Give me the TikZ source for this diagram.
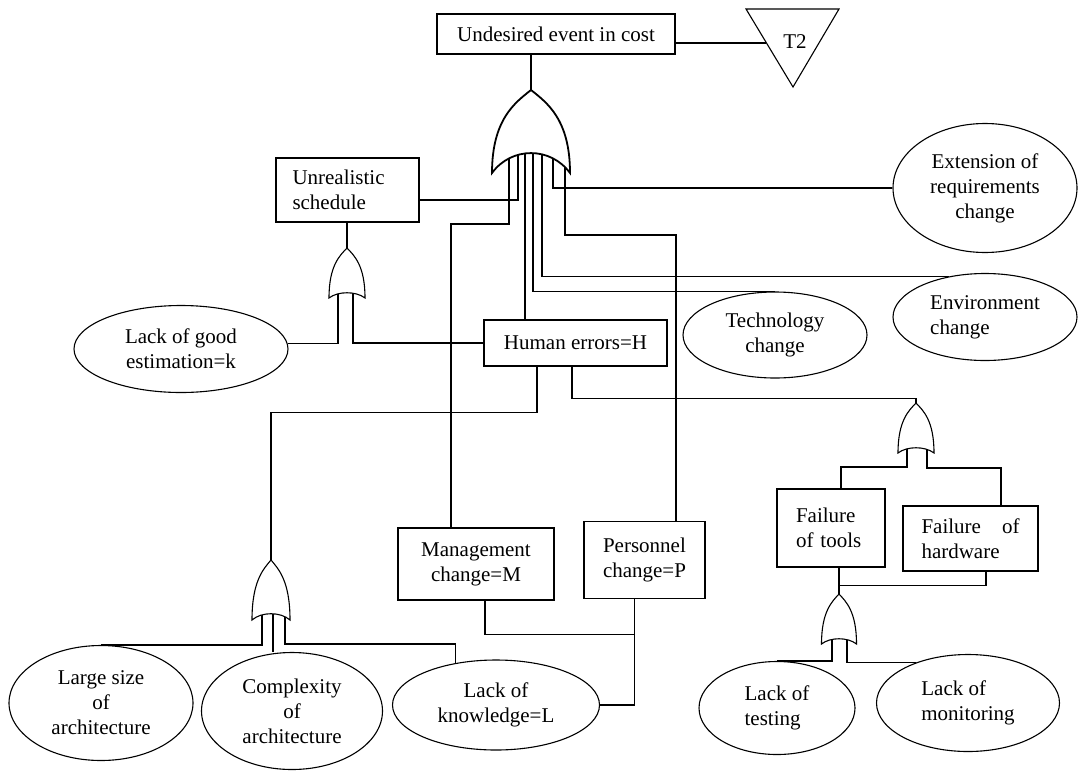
\documentclass[tikz,border=0pt]{standalone}
\usepackage{fontspec}
\setmainfont{Liberation Serif}
\usepackage{tikz}
\usetikzlibrary{shapes.geometric}

\tikzset{
	orgate/.pic={
		\draw[fill=white] (0,0) .. controls (0.2,0.15) and (0.5,0.35) .. (0.5,1)
			.. controls (0.25,{1-#1}) and (-0.25,{1-#1}) .. (-0.5,1)
			.. controls (-0.5,0.35) and (-0.2,0.15) .. cycle;
	}
}

\begin{document}
\begin{tikzpicture}[x=1pt,y=-1pt,line width=1.1pt,
	evbox/.style={draw,rectangle,inner sep=0pt,font=\fontsize{21}{25}\selectfont,align=center},
	evell/.style={draw,ellipse,inner sep=0pt,font=\fontsize{21}{25}\selectfont,align=center}]
	\useasboundingbox (0,0) rectangle (1078,771);
	% events
	\node[evbox,minimum width=238pt,minimum height=40pt] (top) at (556,34) {Undesired event in cost};
	\node[evbox,minimum width=143pt,minimum height=64pt,text width=110pt,align=left] (uns) at (347.5,190) {Unrealistic\\schedule};
	\node[evbox,minimum width=183pt,minimum height=46pt] (H) at (575.5,343) {Human errors=H};
	\node[evbox,minimum width=156pt,minimum height=72pt] (M) at (476,564) {Management\\change=M};
	\node[evbox,minimum width=121pt,minimum height=77pt,align=left] (P) at (644.5,560) {Personnel\\change=P};
	\node[evbox,minimum width=108pt,minimum height=78pt,text width=70pt,align=left] (ft) at (831,528) {Failure\\of tools};
	\node[evbox,minimum width=135pt,minimum height=65pt,text width=98pt,align=justify] (fh) at (970.5,538.5) {Failure of hardware};
	\node[evell,minimum width=184pt,minimum height=129pt] (ext) at (985,188) {Extension of\\requirements\\change};
	\node[evell,minimum width=184pt,minimum height=87pt,align=left] (env) at (985,317) {Environment\\change};
	\node[evell,minimum width=184pt,minimum height=86pt] (tech) at (775,335) {Technology\\change};
	\node[evell,minimum width=214pt,minimum height=87pt] (k) at (181,349) {Lack of good\\estimation=k};
	\node[evell,minimum width=184pt,minimum height=115pt] (large) at (101,703) {Large size\\of\\architecture};
	\node[evell,minimum width=181pt,minimum height=117pt] (comp) at (292,711) {Complexity\\of\\architecture};
	\node[evell,minimum width=207pt,minimum height=90pt] (lk) at (496,705) {Lack of\\knowledge=L};
	\node[evell,minimum width=156pt,minimum height=93pt,align=left] (test) at (777,708) {Lack of\\testing};
	\node[evell,minimum width=183pt,minimum height=97pt,align=left] (mon) at (968,703) {Lack of\\monitoring};
	% transfer triangle
	\draw (746,9) -- (839,9) -- (793,87) -- cycle;
	\node[font=\fontsize{21}{25}\selectfont] (t2) at (795,42) {T2};
	\coordinate (t2in) at (766,43);
	% gate points
	\coordinate (g0top) at (531,90);
	\coordinate (g0a) at (509,150);
	\coordinate (g0b) at (518,150);
	\coordinate (g0c) at (525,150);
	\coordinate (g0d) at (533,150);
	\coordinate (g0e) at (542,150);
	\coordinate (g0f) at (553,150);
	\coordinate (g0g) at (565,150);
	\coordinate (g1top) at (347,248);
	\coordinate (g1a) at (338,288);
	\coordinate (g1b) at (353,288);
	\coordinate (g2top) at (271,560);
	\coordinate (g2a) at (262,605);
	\coordinate (g2b) at (273,605);
	\coordinate (g2c) at (285,605);
	\coordinate (g3top) at (916,403);
	\coordinate (g3a) at (907,440);
	\coordinate (g3b) at (927,440);
	\coordinate (g4top) at (839,594);
	\coordinate (g4a) at (832,632);
	\coordinate (g4b) at (847,632);
	% connectors
	\draw (top.south -| g0top) -- (g0top);
	\draw ([yshift=-9pt]top.east) -- (t2in);
	\draw (g0a) -- ++(0,74) -| ([xshift=-25pt]M.north);
	\draw (g0b) |- ([yshift=-10pt]uns.east);
	\draw (g0c) -- (g0c |- H.north);
	\draw (g0d) |- (tech.north);
	\draw (g0e) |- (env.132);
	\draw (g0f) |- (ext.west);
	\draw (g0g) -- ++(0,85) -| ([xshift=31.5pt]P.north);
	\draw (uns.south -| g1top) -- (g1top);
	\draw (k.3) -| (g1a);
	\draw (H.west) -| (g1b);
	\draw ([xshift=-38.5pt]H.south) -- ++(0,46) -| (g2top);
	\draw ([xshift=-3.5pt]H.south) -- ++(0,32) -| (g3top);
	\draw (g2a) |- (large.north);
	\draw (g2b) -- (g2b |- comp.north);
	\draw (g2c) -- ++(0,39) -| (lk.134);
	\draw ([xshift=-10pt]P.south) |- (lk.east);
	\draw ([xshift=9pt]M.south) |- ([xshift=-10pt,yshift=-35pt]P.south);
	\draw (g3a) -- ++(0,27) -| ([xshift=10pt]ft.north);
	\draw (g3b) -- ++(0,28) -| ([xshift=30.5pt]fh.north);
	\draw ([xshift=8pt]ft.south) -- (g4top);
	\draw ([xshift=15.5pt]fh.south) |- ([xshift=8pt,yshift=-18pt]ft.south);
	\draw (g4a) |- (test.north);
	\draw (g4b) |- (mon.142);
	% gates
	\pic[xscale=78,yscale=83,line width=1.8pt] at (g0top) {orgate=0.32};
	\pic[xscale=36,yscale=50] at (g1top) {orgate=0.14};
	\pic[xscale=38,yscale=60] at (g2top) {orgate=0.14};
	\pic[xscale=36,yscale=50] at (g3top) {orgate=0.14};
	\pic[xscale=35,yscale=50] at (g4top) {orgate=0.14};
\end{tikzpicture}
\end{document}
